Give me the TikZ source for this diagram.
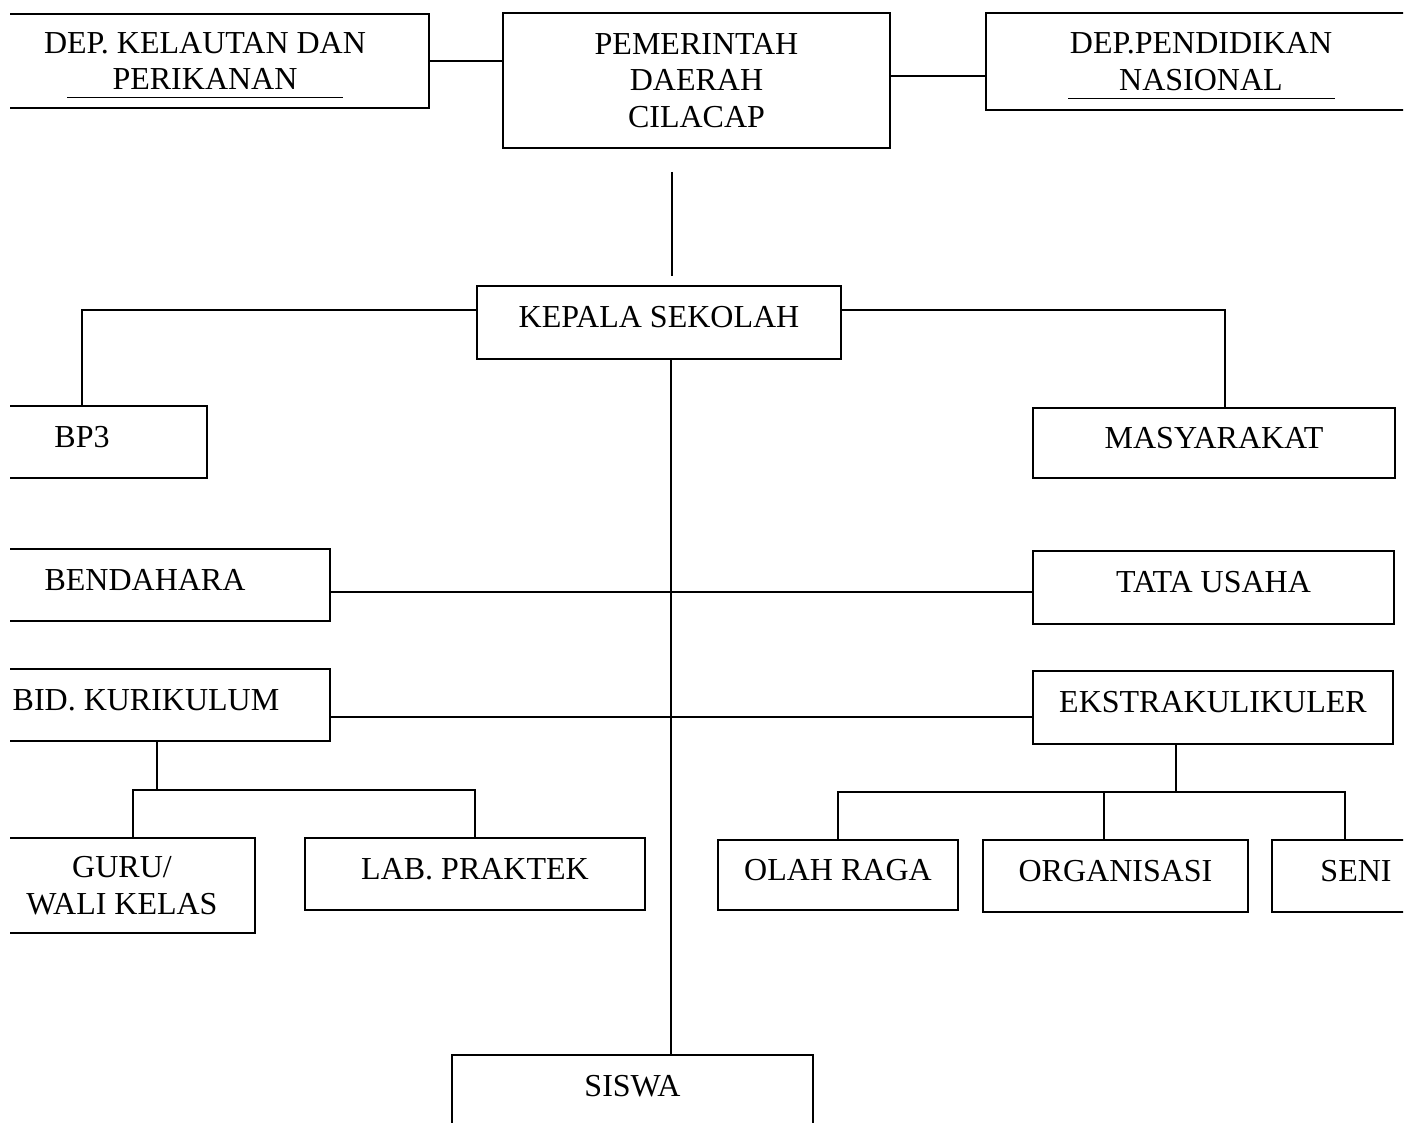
\documentclass[tikz,border=0pt]{standalone}
\usepackage{fontspec}
\setmainfont{Liberation Serif}
\begin{document}
\begin{tikzpicture}[x=1pt,y=-1pt,
  box/.style={draw, line width=1.6pt, inner sep=0pt, align=center, font=\fontsize{32}{36.5}\selectfont},
  one/.style={text height=21pt, text depth=11pt},
  link/.style={line width=1.6pt},
  uline/.style={line width=1pt}]
\useasboundingbox (0,0) rectangle (1406,1123);
\begin{scope}
\clip (10,0) rectangle (1403,1123);
% top row
\node[box, minimum width=448pt, minimum height=94pt] (kel) at (205,61) {DEP. KELAUTAN DAN\\PERIKANAN};
\node[box, minimum width=387pt, minimum height=135pt] (pemda) at (696.5,80.5) {PEMERINTAH\\DAERAH\\CILACAP};
\node[box, minimum width=430pt, minimum height=97pt] (dik) at (1201,61.5) {DEP.PENDIDIKAN\\NASIONAL};
\draw[uline] (67,98) -- (343,98);
\draw[uline] (1068,99) -- (1335,99);
\draw[link] (kel.east) -- (kel.east -| pemda.west);
\draw[link] ([yshift=4.5pt]pemda.east) -- ([yshift=4.5pt]pemda.east -| dik.west);
\coordinate (v1) at (672,172);
\coordinate (v2) at (672,276);
\draw[link] (v1) -- (v2);
% kepala
\node[box, one, minimum width=364pt, minimum height=73pt] (kep) at (659,322.5) {KEPALA SEKOLAH};
\node[box, one, minimum width=250pt, minimum height=72pt] (bp3) at (82,442) {BP3};
\node[box, one, minimum width=362pt, minimum height=70pt] (masy) at (1214,443) {MASYARAKAT};
\draw[link] ([yshift=12.5pt]kep.west) -| (bp3.north);
\draw[link] ([yshift=12.5pt]kep.east) -| ([xshift=11pt]masy.north);
% middle rows
\node[box, one, minimum width=370pt, minimum height=72pt] (bend) at (145,585) {BENDAHARA};
\node[box, one, minimum width=361pt, minimum height=73pt] (tata) at (1213.5,587.5) {TATA USAHA};
\draw[link] ([yshift=-7pt]bend.east) -- ([yshift=-7pt]bend.east -| tata.west);
\node[box, one, minimum width=368pt, minimum height=72pt] (bid) at (146,705) {BID. KURIKULUM};
\node[box, one, minimum width=360pt, minimum height=73pt] (eks) at (1213,707.5) {EKSTRAKULIKULER};
\draw[link] ([yshift=-12pt]bid.east) -- ([yshift=-12pt]bid.east -| eks.west);
% kurikulum branch
\node[box, minimum width=266pt, minimum height=95pt] (guru) at (122,885.5) {GURU/\\WALI KELAS};
\node[box, one, minimum width=340pt, minimum height=72pt] (lab) at (475,874) {LAB. PRAKTEK};
\coordinate (kj) at (157,790);
\draw[link] ([xshift=11pt]bid.south) -- (kj);
\draw[link] ([xshift=11pt]guru.north) |- (kj) -| (lab.north);
% ekstra branch
\node[box, one, minimum width=240pt, minimum height=70pt] (olah) at (838,875) {OLAH RAGA};
\node[box, one, minimum width=265pt, minimum height=72pt] (org) at (1115.5,876) {ORGANISASI};
\node[box, one, minimum width=168pt, minimum height=72pt] (seni) at (1356,876) {SENI};
\coordinate (ej) at (1176,792);
\draw[link] ([xshift=-37pt]eks.south) -- (ej);
\draw[link] (olah.north) |- (ej) -| ([xshift=-11pt]seni.north);
\draw[link] ([xshift=-11.5pt]org.north) -- ([xshift=-11.5pt]org.north |- ej);
% siswa
\node[box, one, minimum width=361pt, minimum height=73pt] (siswa) at (632.5,1091.5) {SISWA};
\draw[link] ([xshift=12pt]kep.south) -- ([xshift=12pt]kep.south |- siswa.north);
\end{scope}
\end{tikzpicture}
\end{document}
